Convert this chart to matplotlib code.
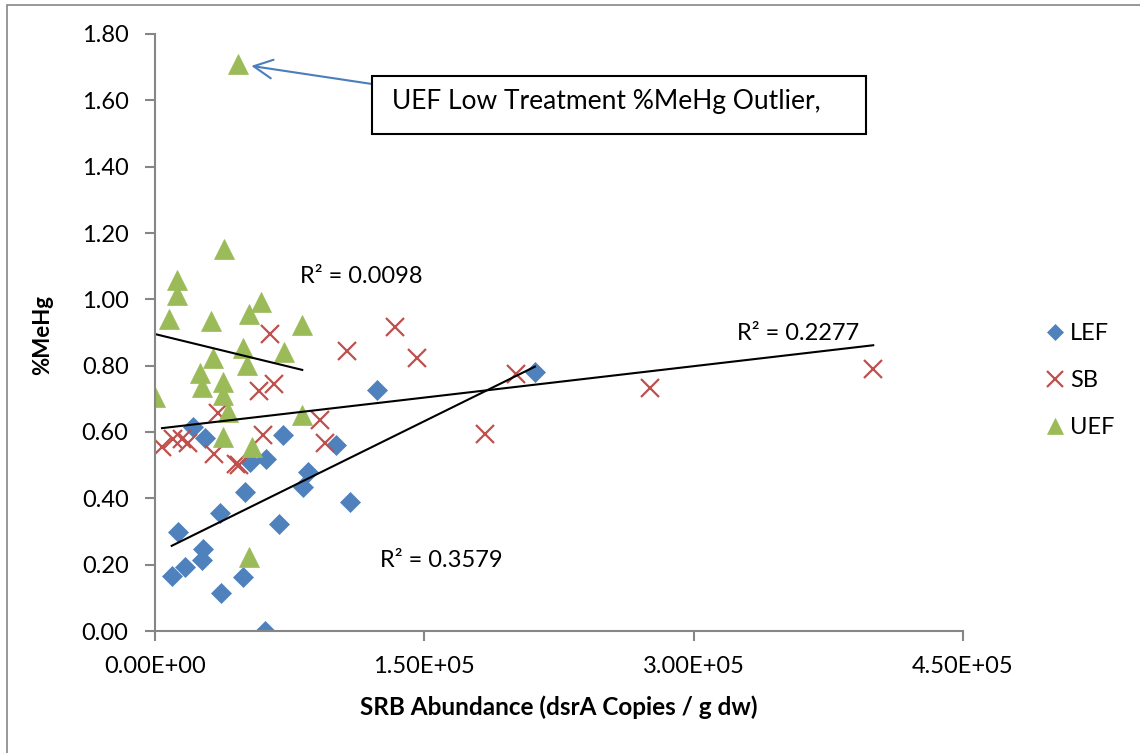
import numpy as np
import matplotlib
matplotlib.use("Agg")
import matplotlib.pyplot as plt
from matplotlib.patches import Rectangle
from matplotlib.ticker import FuncFormatter, MultipleLocator

plt.rcParams['font.family'] = ['Lato', 'DejaVu Sans']

# data
lef_x = [9.3e3, 1.67e4, 1.3e4, 2.69e4, 2.6e4, 3.7e4, 4.9e4, 3.6e4, 5.0e4, 6.9e4,
         6.2e4, 5.3e4, 7.15e4, 6.1e4, 2.13e4, 2.78e4, 8.26e4, 8.5e4, 1.01e5,
         1.086e5, 1.236e5, 2.116e5]
lef_y = [0.166, 0.194, 0.300, 0.246, 0.214, 0.114, 0.164, 0.355, 0.420, 0.323,
         0.520, 0.510, 0.591, 0.000, 0.616, 0.581, 0.435, 0.480, 0.561,
         0.390, 0.727, 0.780]

sb_x = [3.9e3, 1.0e4, 1.5e4, 1.85e4, 3.3e4, 3.5e4, 4.5e4, 4.7e4, 6.0e4, 5.8e4,
        6.6e4, 6.4e4, 9.2e4, 9.47e4, 1.07e5, 1.336e5, 1.46e5, 1.837e5, 2.008e5,
        2.756e5, 4.0e5]
sb_y = [0.555, 0.580, 0.580, 0.568, 0.535, 0.656, 0.505, 0.500, 0.591, 0.723,
        0.746, 0.896, 0.635, 0.566, 0.845, 0.917, 0.822, 0.593, 0.775,
        0.732, 0.790]

uef_x = [0, 8.0e3, 1.2e4, 1.2e4, 2.5e4, 2.6e4, 3.1e4, 3.25e4, 3.8e4, 3.8e4,
         4.08e4, 3.8e4, 3.84e4, 4.6e4, 4.9e4, 5.1e4, 5.23e4, 5.88e4, 5.4e4,
         5.23e4, 7.18e4, 8.2e4, 8.18e4]
uef_y = [0.706, 0.940, 1.058, 1.013, 0.777, 0.737, 0.935, 0.822, 0.752, 0.711,
         0.661, 0.586, 1.152, 1.710, 0.852, 0.802, 0.955, 0.993, 0.556,
         0.224, 0.840, 0.922, 0.651]

r2_labels = ['R² = 0.3579', 'R² = 0.2277', 'R² = 0.0098']
r2_pos = [(1.253e5, 0.214), (3.24e5, 0.898), (8.07e4, 1.07)]

series = [('LEF', lef_x, lef_y, '#4F81BD', 'D', 10),
          ('SB', sb_x, sb_y, '#C0504D', 'x', 13),
          ('UEF', uef_x, uef_y, '#9BBB59', '^', 14)]

fig = plt.figure(figsize=(11.4, 7.53), dpi=100)
ax = fig.add_axes([155/1140, 1 - 631/753, 808/1140, 597/753])

for name, xs, ys, col, mk, ms in series:
    if mk == 'x':
        ax.plot(xs, ys, ls='none', marker=mk, ms=ms, mew=1.6, color=col, label=name)
    else:
        ax.plot(xs, ys, ls='none', marker=mk, ms=ms, mew=0.5, mec=col, color=col,
                label=name)

# linear trendlines over each series range
for name, xs, ys, col, mk, ms in series:
    xs = np.array(xs)
    ys = np.array(ys)
    k, b = np.polyfit(xs, ys, 1)
    xx = np.array([xs.min(), xs.max()])
    ax.plot(xx, k * xx + b, color='black', lw=1.5)

for lab, (tx, ty) in zip(r2_labels, r2_pos):
    ax.text(tx, ty, lab, fontsize=17, va='center', ha='left')

ax.set_xlim(0, 4.5e5)
ax.set_ylim(0, 1.8)
ax.xaxis.set_major_locator(MultipleLocator(1.5e5))
ax.yaxis.set_major_locator(MultipleLocator(0.2))
ax.xaxis.set_major_formatter(FuncFormatter(lambda v, p: f"{v:.2E}"))
ax.yaxis.set_major_formatter(FuncFormatter(lambda v, p: f"{v:.2f}"))
for s in ['top', 'right']:
    ax.spines[s].set_visible(False)
for s in ['left', 'bottom']:
    ax.spines[s].set_color('#868686')
    ax.spines[s].set_linewidth(1.5)
ax.tick_params(axis='both', colors='#868686', labelcolor='black', labelsize=17,
               direction='out', length=7, width=1.5)
ax.tick_params(axis='y', pad=12)
ax.tick_params(axis='x', pad=11)

ax.set_xlabel('SRB Abundance (dsrA Copies / g dw)', fontsize=17.5, fontweight='bold',
              labelpad=13)
fig.text(43/1140, 1 - 335/753, '%MeHg', rotation=90, fontsize=16,
         fontweight='bold', ha='center', va='center')

fig.legend(loc='upper left', bbox_to_anchor=(1024/1140, 1 - 302/753),
           frameon=False, fontsize=17, handlelength=0.8, handletextpad=0.25,
           labelspacing=1.1, markerscale=0.85)

# outlier callout
fig.patches.append(Rectangle((372/1140, 1 - 134/753), 494/1140, 58/753,
                             transform=fig.transFigure, fill=False,
                             edgecolor='black', lw=1.5))
fig.text(392/1140, 1 - 101/753, 'UEF Low Treatment %MeHg Outlier,', fontsize=19,
         va='center', ha='left')
i_out = int(np.argmax(uef_y))
ax.annotate('', xy=(uef_x[i_out], uef_y[i_out]), xycoords='data',
            xytext=(372/1140, 1 - 84/753), textcoords='figure fraction',
            arrowprops=dict(arrowstyle='->,head_length=0.9,head_width=0.45',
                            color='#4A7EBB', lw=1.5, shrinkA=0, shrinkB=10,
                            mutation_scale=15))

# chart-area border
fig.patches.append(Rectangle((7/1140, -0.1), 1.2, 1.1 - 5/753,
                             transform=fig.transFigure, fill=False,
                             edgecolor='#868686', lw=1.2))

fig.savefig('out.png', dpi=100)
